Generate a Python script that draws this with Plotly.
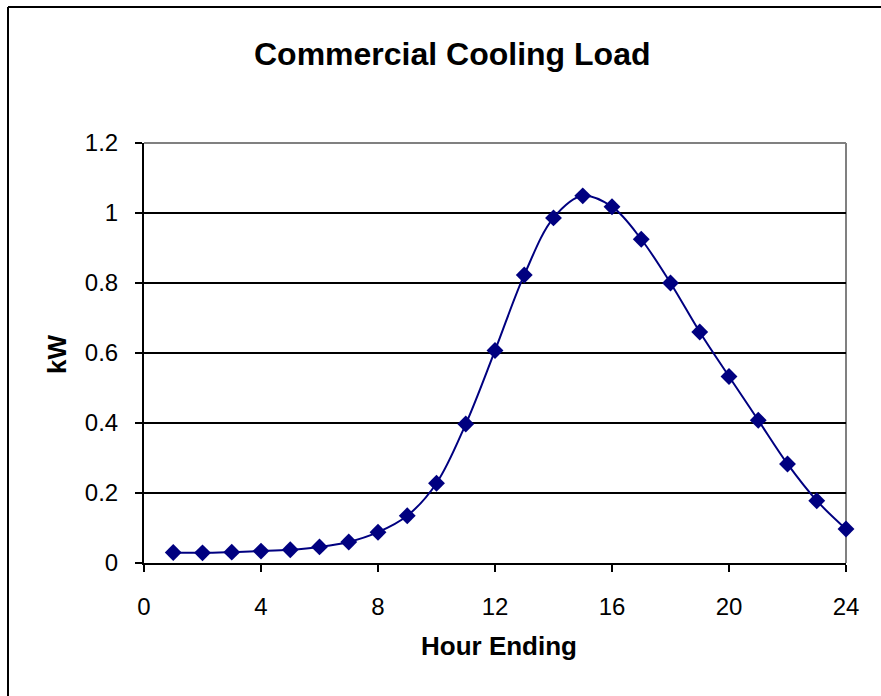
import plotly.graph_objects as go

# Hourly commercial cooling load profile
hours = list(range(1, 25))
load_kw = [0.030, 0.029, 0.031, 0.034, 0.038, 0.046, 0.060, 0.088, 0.135, 0.228,
           0.397, 0.607, 0.823, 0.986, 1.049, 1.018, 0.925, 0.800, 0.660, 0.533,
           0.408, 0.283, 0.178, 0.097]

x_ticks = [0, 4, 8, 12, 16, 20, 24]
y_ticks = [0, 0.2, 0.4, 0.6, 0.8, 1.0, 1.2]
y_tick_text = ["0", "0.2", "0.4", "0.6", "0.8", "1", "1.2"]

FONT = "Liberation Sans, Arial, sans-serif"
W, H = 881, 696
L, R, T, B = 144, 35, 143, 133
pw, ph = W - L - R, H - T - B


def px_x(p):
    return (p - L) / pw


def px_y(p):
    return (H - B - p) / ph


fig = go.Figure()
fig.add_trace(go.Scatter(
    x=hours, y=load_kw,
    mode="lines+markers",
    line=dict(color="#000080", width=2, shape="spline", smoothing=1.0),
    marker=dict(symbol="diamond", size=13, color="#000080"),
    showlegend=False,
    cliponaxis=False,
))

fig.update_layout(
    width=W, height=H,
    margin=dict(l=L, r=R, t=T, b=B, pad=0),
    paper_bgcolor="white",
    plot_bgcolor="white",
    font=dict(family=FONT, color="black", size=24),
    xaxis=dict(
        range=[0, 24], tickvals=x_ticks, ticktext=[str(v) for v in x_ticks],
        showgrid=False, zeroline=False,
        showline=True, linecolor="black", linewidth=2,
        ticks="outside", ticklen=7, tickwidth=2, tickcolor="black",
        tickfont=dict(size=24, family=FONT), ticklabelstandoff=14,
    ),
    yaxis=dict(
        range=[0, 1.2], tickvals=y_ticks, ticktext=y_tick_text,
        showgrid=True, gridcolor="black", gridwidth=2, zeroline=False,
        showline=True, linecolor="black", linewidth=2,
        ticks="outside", ticklen=7, tickwidth=2, tickcolor="black",
        tickfont=dict(size=24, family=FONT), ticklabelstandoff=12,
    ),
    shapes=[
        # gray plot-area frame on the top and right sides
        dict(type="line", xref="paper", yref="paper", x0=0, x1=1, y0=1, y1=1,
             line=dict(color="#808080", width=2), layer="above"),
        dict(type="line", xref="paper", yref="paper", x0=1, x1=1, y0=0, y1=1,
             line=dict(color="#808080", width=2), layer="below"),
        # chart frame
        dict(type="line", xref="paper", yref="paper",
             x0=px_x(8), x1=px_x(8), y0=px_y(700), y1=px_y(7),
             line=dict(color="black", width=2)),
        dict(type="line", xref="paper", yref="paper",
             x0=px_x(8), x1=px_x(885), y0=px_y(7), y1=px_y(7),
             line=dict(color="black", width=2)),
    ],
    annotations=[
        dict(text="<b>Commercial Cooling Load</b>", xref="paper", yref="paper",
             x=px_x(451.5), y=px_y(54), xanchor="center", yanchor="middle",
             showarrow=False, font=dict(size=32, family=FONT, color="black")),
        dict(text="<b>Hour Ending</b>", xref="paper", yref="paper",
             x=px_x(499), y=px_y(646), xanchor="center", yanchor="middle",
             showarrow=False, font=dict(size=26, family=FONT, color="black")),
        dict(text="<b>kW</b>", xref="paper", yref="paper",
             x=px_x(57), y=px_y(355), xanchor="center", yanchor="middle",
             textangle=-90,
             showarrow=False, font=dict(size=26, family=FONT, color="black")),
    ],
)

fig.write_html("out.html")
